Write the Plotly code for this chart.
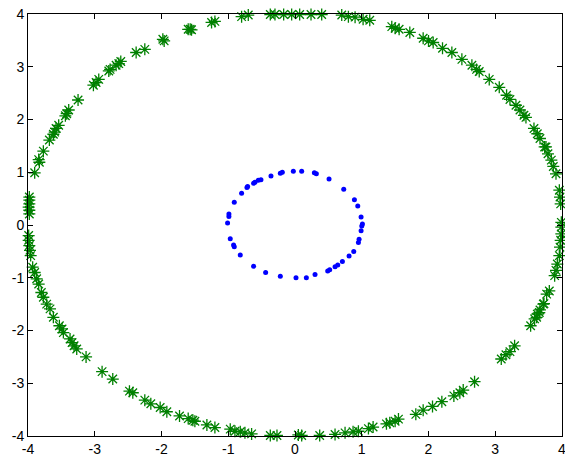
import plotly.graph_objects as go

# Inner circle (blue dots)
blue_x = [-0.19, -0.22, -0.025, 0.10, 0.29, 0.32, 0.51, 0.73, 0.89, 0.94, 0.99, 1.01, 1.00, 0.99,
          0.96, 0.95, 0.88, 0.81, 0.71, 0.64, 0.60, 0.52, 0.49, 0.30, 0.17, 0.015, -0.22, -0.44,
          -0.62, -0.82, -0.91, -0.92, -0.97, -1.01, -0.99, -0.99, -0.91, -0.80, -0.72, -0.71,
          -0.60, -0.62, -0.51, -0.55, -0.36]
blue_y = [1.00, 0.98, 1.02, 1.02, 0.99, 0.97, 0.87, 0.68, 0.48, 0.36, 0.15, 0.02, -0.02, -0.11,
          -0.27, -0.33, -0.50, -0.59, -0.69, -0.76, -0.79, -0.85, -0.87, -0.94, -1.00, -1.00, -0.97, -0.90,
          -0.78, -0.57, -0.41, -0.38, -0.26, 0.04, 0.16, 0.21, 0.43, 0.60, 0.71, 0.73,
          0.81, 0.79, 0.86, 0.85, 0.93]

# Outer circle (green asterisks)
green_x = [-1.57, -1.98, -1.96, -2.25, -2.38, -2.61, -2.64, -2.68, -2.77, -2.79, -2.94, -2.98, -3.02,
           -3.25, -3.39, -3.42, -3.44, -3.54, -3.58, -3.60, -3.62, -3.68, -3.77, -3.84, -3.83, -3.90,
           -3.98, -3.98, -3.98, -3.99, -3.98, -3.98, -3.99, -3.99, -3.98, -3.97, -3.96, -3.93, -3.90,
           -3.87, -3.84, -3.80, -3.77, -3.72, -3.67, -3.62, -3.53, -3.49, -3.47, -3.37, -3.34, -3.31,
           -3.27, -3.13, -2.89, -2.73, -2.48, -2.43, -2.25, -2.16, -2.02, -1.92, -1.73, -1.60, -1.53,
           -1.50, -1.32, -1.20, -0.97, -0.90, -0.82, -0.75, -0.65, -0.37, -0.27, 0.05, 0.10, 0.37,
           0.60, 0.75, 0.87, 0.95, 1.10, 1.17, 1.37, 1.42, 1.50, 1.55, 1.81, 1.92, 2.06, 2.20, 2.38,
           2.47, 2.52, 2.69, 3.09, 3.16, 3.22, 3.29, 3.53, 3.59, 3.63, 3.67, 3.72, 3.66, 3.62, 3.73,
           3.77, 3.81, 3.89, 3.91, 3.93, 3.96, 3.97, 3.98, 3.99, 3.99, 3.99, 3.98, 3.97, 3.96, 3.91,
           3.87, 3.84, 3.79, 3.74, 3.67, 3.76, 3.63, 3.58, 3.46, 3.43, 3.37, 3.31, 3.22, 3.17, 3.06,
           2.91, 2.76, 2.72, 2.65, 2.50, 2.35, 2.21, 2.07, 2.00, 1.92, 1.72, 1.56, 1.50, 1.45, 1.12,
           1.02, 0.90, 0.80, 0.70, 0.40, 0.24, 0.07, -0.05, -0.17, -0.30, -0.37, -0.70, -0.80, -1.20,
           -1.25, -1.55, -1.60]
green_y = [3.71, 3.52, 3.49, 3.33, 3.27, 3.10, 3.06, 3.03, 2.95, 2.92, 2.76, 2.70, 2.65,
           2.37, 2.18, 2.11, 2.07, 1.89, 1.83, 1.76, 1.72, 1.61, 1.40, 1.24, 1.19, 0.99,
           0.53, 0.47, 0.40, 0.34, 0.28, 0.21, -0.20, -0.29, -0.39, -0.48, -0.58, -0.80, -0.90,
           -1.02, -1.12, -1.28, -1.37, -1.50, -1.59, -1.75, -1.91, -1.97, -2.04, -2.16, -2.23, -2.29,
           -2.35, -2.50, -2.78, -2.92, -3.15, -3.18, -3.32, -3.39, -3.46, -3.54, -3.62, -3.67, -3.70,
           -3.72, -3.79, -3.84, -3.87, -3.91, -3.92, -3.94, -3.96, -3.99, -3.99, -3.98, -3.99, -3.99,
           -3.97, -3.94, -3.92, -3.91, -3.86, -3.83, -3.77, -3.75, -3.72, -3.68, -3.59, -3.51, -3.44, -3.35, -3.24,
           -3.18, -3.13, -2.97, -2.54, -2.46, -2.40, -2.29, -1.91, -1.78, -1.69, -1.61, -1.50, -1.66, -1.75, -1.49,
           -1.31, -1.25, -0.96, -0.86, -0.74, -0.58, -0.42, -0.29, -0.17, -0.04, 0.05, 0.40, 0.53, 0.66, 0.97,
           1.11, 1.23, 1.35, 1.48, 1.64, 1.48, 1.73, 1.83, 2.04, 2.08, 2.18, 2.27, 2.38, 2.46, 2.61,
           2.76, 2.91, 2.95, 3.03, 3.14, 3.27, 3.35, 3.46, 3.49, 3.54, 3.65, 3.71, 3.73, 3.76, 3.88,
           3.90, 3.94, 3.95, 3.98, 3.99, 3.99, 3.99, 3.99, 3.99, 3.99, 3.99, 3.98, 3.95, 3.86,
           3.84, 3.70, 3.71]

x_ticks = [-4, -3, -2, -1, 0, 1, 2, 3, 4]
y_ticks = [-4, -3, -2, -1, 0, 1, 2, 3, 4]

fig = go.Figure()
fig.add_trace(go.Scatter(
    x=blue_x, y=blue_y, mode="markers",
    marker=dict(symbol="circle", size=5, color="#0000ff", line=dict(width=0)),
    cliponaxis=False, showlegend=False))
fig.add_trace(go.Scatter(
    x=green_x, y=green_y, mode="markers",
    marker=dict(symbol="asterisk-open", size=10, color="#008000",
                line=dict(width=1.3, color="#008000")),
    cliponaxis=False, showlegend=False))

axis_common = dict(
    showgrid=False, zeroline=False, showline=True, linecolor="black", linewidth=1,
    mirror="ticks", ticks="inside", ticklen=5, tickcolor="black", automargin=False,
    ticklabeloverflow="allow",
    tickfont=dict(family="Liberation Sans, Arial", size=14, color="black"),
)
fig.update_xaxes(range=[-4, 4], tickvals=x_ticks, ticktext=[str(v) for v in x_ticks], **axis_common)
fig.update_yaxes(range=[-4, 4], tickvals=y_ticks, ticktext=[str(v) for v in y_ticks], **axis_common)

fig.update_layout(
    width=565, height=458,
    margin=dict(l=28, r=3, t=14, b=22, pad=0),
    paper_bgcolor="white", plot_bgcolor="white",
)
fig.write_html("out.html", config={"displayModeBar": False},
               post_script="document.body.style.margin='0px';")
